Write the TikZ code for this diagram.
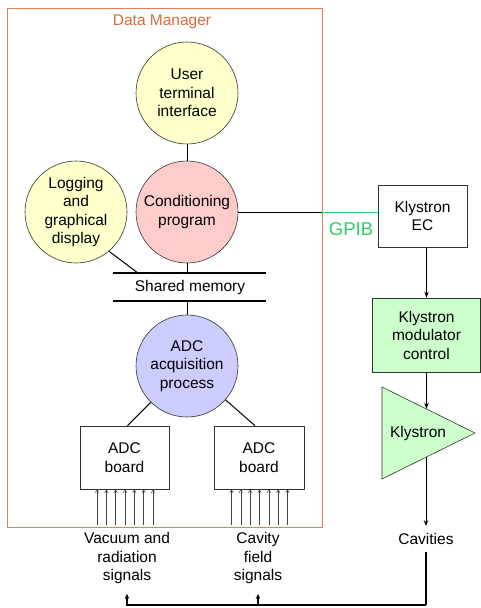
\documentclass[tikz,border=0pt]{standalone}
\usepackage{fontspec}
\setmainfont{Liberation Sans}
\usetikzlibrary{arrows.meta,calc}
\definecolor{dmorange}{RGB}{226,128,84}
\definecolor{dmtext}{RGB}{214,108,60}
\definecolor{cyellow}{RGB}{255,255,204}
\definecolor{cpink}{RGB}{255,204,204}
\definecolor{cblue}{RGB}{204,204,255}
\definecolor{cgreen}{RGB}{204,255,204}
\definecolor{gpibgreen}{RGB}{51,204,102}
\begin{document}
\begin{tikzpicture}[x=1pt,y=-1pt,
  every node/.style={font=\fontsize{15.5}{18.5}\selectfont, align=center, inner sep=0pt},
  proc/.style={circle, draw=black!80, line width=0.6pt, minimum size=102pt},
  box/.style={rectangle, draw=black!80, line width=0.6pt},
  conn/.style={line width=1pt},
  bus/.style={line width=1.4pt},
  flow/.style={line width=0.9pt, -{Stealth[length=6pt,width=4.5pt]}},
  inarrow/.style={line width=0.5pt, black!75, -{Straight Barb[length=3pt,width=3.5pt]}},
  fb/.style={line width=1.5pt},
  fbarrow/.style={line width=1.5pt, -{Stealth[length=5pt,width=4.5pt]}}]
\fill[white] (0,0) rectangle (481,608);
\useasboundingbox (0,0) rectangle (481,608);

% Data manager frame
\node[draw=dmorange, line width=0.8pt, minimum width=315pt, minimum height=519pt] (dm) at (164.5,267.5) {};
\node[text=dmtext] (dmlabel) at (162,22) {Data Manager};

% processes
\node[proc, fill=cyellow] (user) at (187,93) {User\\terminal\\interface};
\node[proc, fill=cpink] (cond) at (187,212) {Conditioning\\program};
\node[proc, fill=cyellow] (log) at (76,212) {Logging\\and\\graphical\\display};
\node[proc, fill=cblue] (adc) at (187,366) {ADC\\acquisition\\process};

% shared memory
\coordinate (smTL) at (113,273); \coordinate (smTR) at (266,273);
\coordinate (smBL) at (113,301); \coordinate (smBR) at (266,301);
\draw[bus] (smTL) -- (smTR);
\draw[bus] (smBL) -- (smBR);
\node (smlabel) at (190,287) {Shared memory};
\coordinate (logend) at (138,273);

\draw[conn] (user) -- (cond);
\draw[conn] (cond.south) -- (cond.south |- smTL);
\draw[conn] (log.-50) -- (logend);
\draw[conn] (adc.north) -- (adc.north |- smBL);

% boards
\node[box, minimum width=89pt, minimum height=63pt] (bl) at (124.5,457.5) {ADC\\board};
\node[box, minimum width=90pt, minimum height=63pt] (br) at (259,457.5) {ADC\\board};
\draw[conn] (adc) -- ($(bl.north)+(3,0)$);
\draw[conn] (adc) -- ($(br.north)+(-4,0)$);
\foreach \dx in {-28,-18.67,-9.33,0,9.33,18.67,28} {
  \draw[inarrow] ($(bl.south)+(\dx+0.5,36)$) -- ($(bl.south)+(\dx+0.5,0)$);
  \draw[inarrow] ($(br.south)+(\dx+0.5,36)$) -- ($(br.south)+(\dx+0.5,0)$);
}

% right column
\node[box, minimum width=89pt, minimum height=62pt] (ec) at (422.5,216) {Klystron\\EC};
\draw[conn] (cond.east) -- (cond.east -| dm.east);
\draw[conn, gpibgreen] (cond.east -| dm.east) -- (cond.east -| ec.west);
\node[text=gpibgreen, font=\fontsize{18.5}{20}\selectfont] (gpib) at (351,229) {GPIB};

\node[box, fill=cgreen, minimum width=108pt, minimum height=74pt] (mod) at (426.5,335) {Klystron\\modulator\\control};
\draw[flow] (mod.north |- ec.south) -- (mod.north);

\coordinate (kA) at (382,387); \coordinate (kB) at (382,479); \coordinate (kC) at (475,433);
\draw[line width=0.6pt, draw=black!80, fill=cgreen] (kA) -- (kC) -- (kB) -- cycle;
\node (klys) at (418,433) {Klystron};
\coordinate (kin) at ($(kA)!0.473!(kC)$);
\coordinate (kout) at ($(kB)!0.473!(kC)$);
\draw[flow] (mod.south) -- (mod.south |- kin);

\node[inner ysep=7pt] (cav) at (426,539) {Cavities};
\draw[flow] (kout) -- (kout |- cav.north);

% signal labels and feedback
\node[inner ysep=10pt] (vac) at (127,558) {Vacuum and\\radiation\\signals};
\node[inner ysep=10pt] (cavsig) at (258,558) {Cavity\\field\\signals};
\coordinate (fbR) at (426,605);
\draw[fb] (cav.south) -- (fbR);
\draw[fbarrow] (fbR) -| (vac.south);
\draw[fbarrow] (cavsig.south |- fbR) -- (cavsig.south);
\end{tikzpicture}
\end{document}
